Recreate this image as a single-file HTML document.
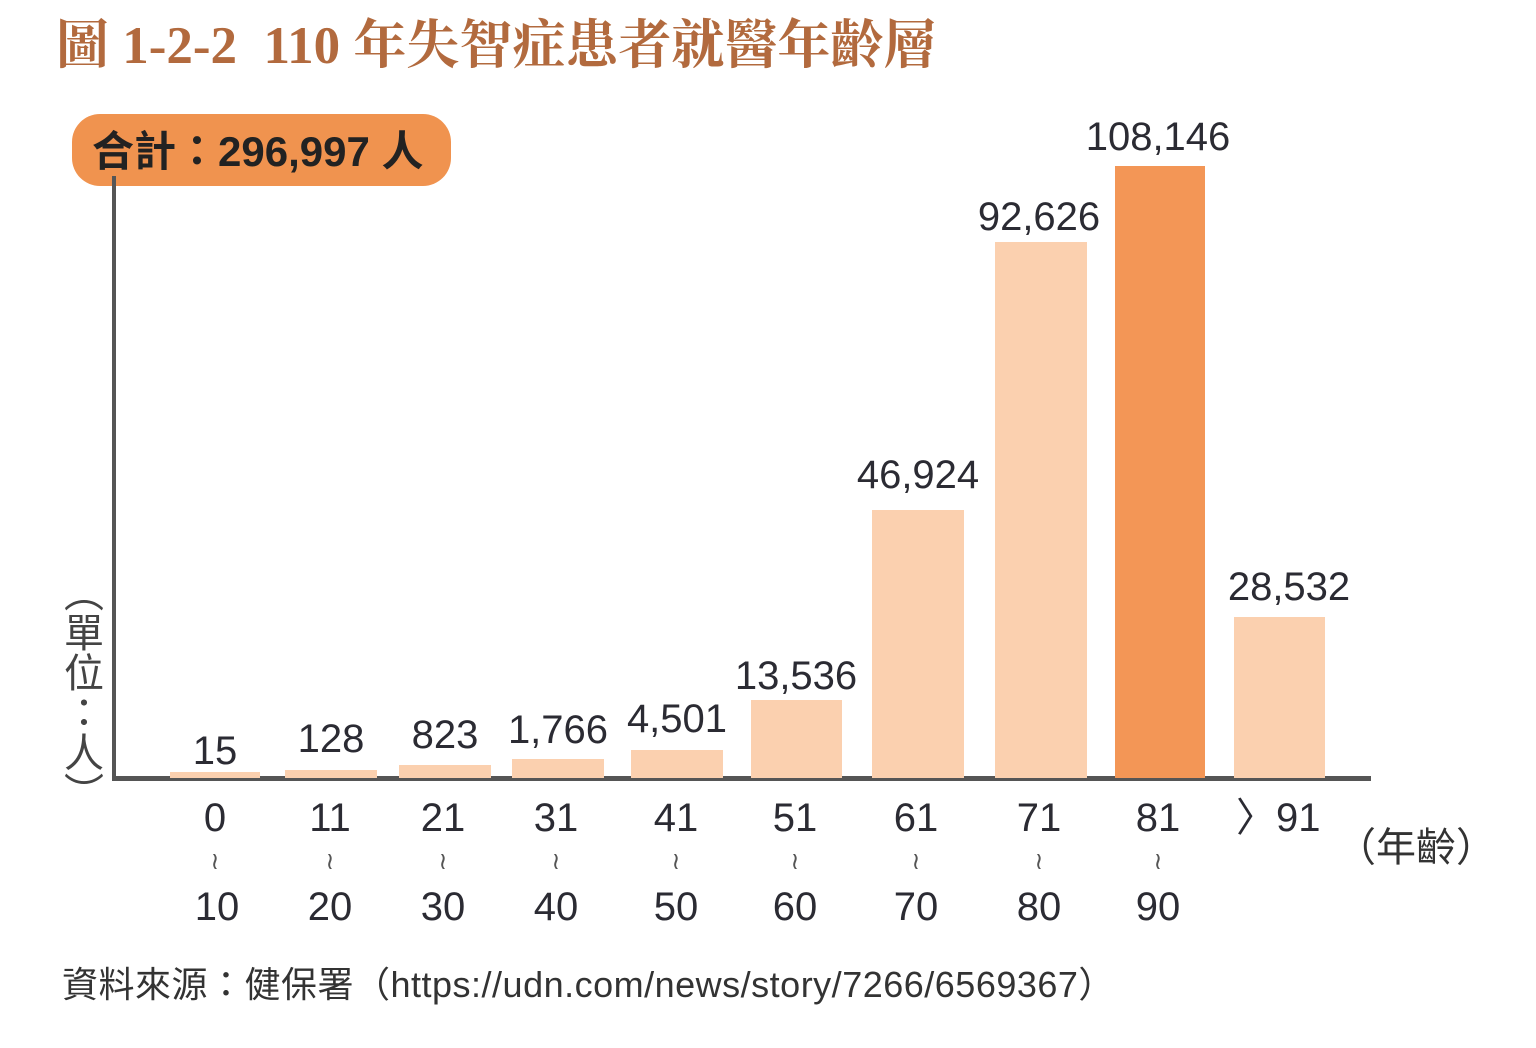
<!DOCTYPE html>
<html><head><meta charset="utf-8"><style>
body{margin:0;width:1536px;height:1048px;background:#fff;position:relative;overflow:hidden;font-family:"Liberation Sans","Noto Sans CJK TC",sans-serif;color:#2b2b33}
.a{position:absolute}
.bar{position:absolute;background:#FBD0AF;bottom:270px}
.v{position:absolute;width:200px;text-align:center;font-size:40px;line-height:40px}
.x{position:absolute;width:120px;text-align:center;font-size:40px;line-height:40px}
.t{position:absolute;width:120px;text-align:center;font-size:24px;line-height:26px;color:#555;font-family:"DejaVu Sans",sans-serif}
</style></head><body>
<div class="a" style="left:56px;top:15px;font-family:'Liberation Serif','Noto Serif CJK SC',serif;font-weight:bold;font-size:53px;line-height:62px;color:#B26A3E;white-space:nowrap">圖 1-2-2&nbsp; 110 年失智症患者就醫年齡層</div>
<div class="a" style="left:72px;top:114px;width:379px;height:72px;border-radius:28px;background:#F0934F"></div>
<div class="a" style="left:92px;top:128px;font-size:42px;line-height:48px;font-weight:bold;color:#222;white-space:nowrap">合計：296,997 人</div>
<div class="a" style="left:112px;top:176px;width:4px;height:605px;background:#555"></div>
<div class="a" style="left:112px;top:776px;width:1259px;height:5px;background:#555"></div>
<div class="a" style="left:58px;top:572px;writing-mode:vertical-rl;font-size:40px;line-height:44px;color:#444">（單位：人）</div>

<div class="bar" style="left:170px;width:90px;top:772px;height:6px"></div>
<div class="bar" style="left:285px;width:92px;top:770px;height:8px"></div>
<div class="bar" style="left:399px;width:92px;top:765px;height:13px"></div>
<div class="bar" style="left:512px;width:92px;top:759px;height:19px"></div>
<div class="bar" style="left:631px;width:92px;top:750px;height:28px"></div>
<div class="bar" style="left:751px;width:91px;top:700px;height:78px"></div>
<div class="bar" style="left:872px;width:92px;top:510px;height:268px"></div>
<div class="bar" style="left:995px;width:92px;top:242px;height:536px"></div>
<div class="bar" style="left:1115px;width:90px;top:166px;height:612px;background:#F39656"></div>
<div class="bar" style="left:1234px;width:91px;top:617px;height:161px"></div>

<div class="v" style="left:115px;top:731px">15</div>
<div class="v" style="left:231px;top:719px">128</div>
<div class="v" style="left:345px;top:715px">823</div>
<div class="v" style="left:458px;top:710px">1,766</div>
<div class="v" style="left:577px;top:699px">4,501</div>
<div class="v" style="left:696px;top:656px">13,536</div>
<div class="v" style="left:818px;top:455px">46,924</div>
<div class="v" style="left:939px;top:197px">92,626</div>
<div class="v" style="left:1058px;top:117px">108,146</div>
<div class="v" style="left:1189px;top:567px">28,532</div>

<div class="x" style="left:155px;top:798px">0</div><div class="t" style="left:155px;top:848px">≀</div><div class="x" style="left:157px;top:887px">10</div>
<div class="x" style="left:270px;top:798px">11</div><div class="t" style="left:270px;top:848px">≀</div><div class="x" style="left:270px;top:887px">20</div>
<div class="x" style="left:383px;top:798px">21</div><div class="t" style="left:383px;top:848px">≀</div><div class="x" style="left:383px;top:887px">30</div>
<div class="x" style="left:496px;top:798px">31</div><div class="t" style="left:496px;top:848px">≀</div><div class="x" style="left:496px;top:887px">40</div>
<div class="x" style="left:616px;top:798px">41</div><div class="t" style="left:616px;top:848px">≀</div><div class="x" style="left:616px;top:887px">50</div>
<div class="x" style="left:735px;top:798px">51</div><div class="t" style="left:735px;top:848px">≀</div><div class="x" style="left:735px;top:887px">60</div>
<div class="x" style="left:856px;top:798px">61</div><div class="t" style="left:856px;top:848px">≀</div><div class="x" style="left:856px;top:887px">70</div>
<div class="x" style="left:979px;top:798px">71</div><div class="t" style="left:979px;top:848px">≀</div><div class="x" style="left:979px;top:887px">80</div>
<div class="x" style="left:1098px;top:798px">81</div><div class="t" style="left:1098px;top:848px">≀</div><div class="x" style="left:1098px;top:887px">90</div>
<div class="a" style="left:1236px;top:798px;font-size:40px;line-height:40px;white-space:nowrap">〉91</div>
<div class="a" style="left:1336px;top:826px;font-size:40px;line-height:44px;color:#333;white-space:nowrap">（年齡）</div>

<div class="a" style="left:62px;top:964px;font-size:36px;line-height:42px;letter-spacing:0.5px;color:#333;white-space:nowrap">資料來源：健保署（https://udn.com/news/story/7266/6569367）</div>
</body></html>
